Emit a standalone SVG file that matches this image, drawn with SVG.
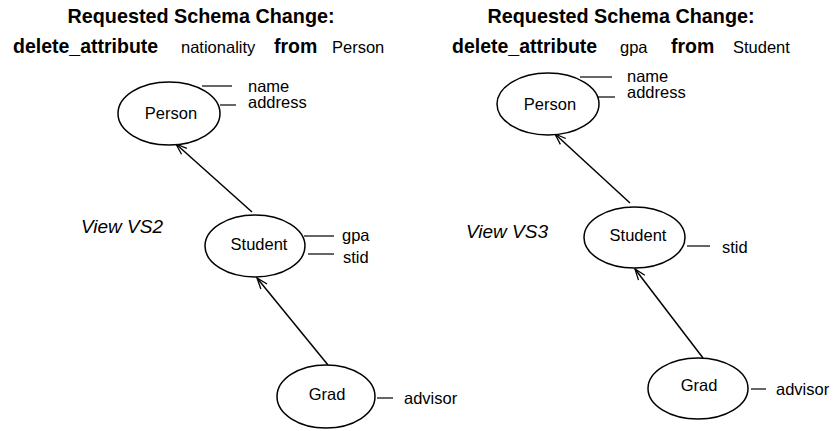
<svg xmlns="http://www.w3.org/2000/svg" width="837" height="431" viewBox="0 0 837 431">
<style>
text{font-family:"Liberation Sans",Arial,sans-serif;fill:#000}
.t{font-size:19.8px;font-weight:bold}
.k{font-size:19.5px;font-weight:bold}
.r{font-size:16.5px}
.v{font-size:19px;font-style:italic}
.n{fill:#fff;stroke:#000;stroke-width:1.5}
.a{stroke:#000;stroke-width:1.2;fill:none}
.e{stroke:#000;stroke-width:1.5;fill:none}
</style>
<defs>
<marker id="arr" markerUnits="userSpaceOnUse" markerWidth="14" markerHeight="12" refX="12" refY="5" orient="auto" viewBox="0 0 14 10">
<path d="M1,1 L12,5 L1,9" fill="none" stroke="#000" stroke-width="1.3"/>
</marker>
</defs>
<rect width="837" height="431" fill="#fff"/>
<g id="header-left">
<text class="t" x="201" y="23" text-anchor="middle">Requested Schema Change:</text>
<text class="k" x="13" y="53">delete_attribute</text>
<text class="r" x="181" y="53">nationality</text>
<text class="k" x="274" y="53">from</text>
<text class="r" x="332" y="53">Person</text>
</g>
<g id="header-right">
<text class="t" x="621" y="23" text-anchor="middle">Requested Schema Change:</text>
<text class="k" x="452" y="53">delete_attribute</text>
<text class="r" x="620" y="53">gpa</text>
<text class="k" x="671" y="53">from</text>
<text class="r" x="733" y="53">Student</text>
</g>
<text class="v" x="81" y="233">View VS2</text>
<text class="v" x="466" y="238">View VS3</text>
<g id="connectors">
<line class="e" x1="252" y1="212" x2="176" y2="144" marker-end="url(#arr)"/>
<line class="e" x1="328" y1="365" x2="257" y2="278" marker-end="url(#arr)"/>
<line class="e" x1="630" y1="203" x2="555" y2="134" marker-end="url(#arr)"/>
<line class="e" x1="703" y1="358" x2="635" y2="269" marker-end="url(#arr)"/>
</g>
<g id="vs2-person">
<ellipse class="n" cx="169" cy="113.5" rx="51" ry="31.5"/>
<text class="r" x="171" y="119" text-anchor="middle">Person</text>
<line class="a" x1="202" y1="86" x2="232" y2="86"/>
<line class="a" x1="220" y1="105" x2="236" y2="105"/>
<text class="r" x="248" y="91.5">name</text>
<text class="r" x="248" y="108">address</text>
</g>
<g id="vs2-student">
<ellipse class="n" cx="255" cy="246" rx="50" ry="31"/>
<text class="r" x="259" y="250" text-anchor="middle">Student</text>
<line class="a" x1="304" y1="236" x2="334" y2="236"/>
<line class="a" x1="308" y1="254" x2="334" y2="254"/>
<text class="r" x="342" y="241">gpa</text>
<text class="r" x="343" y="263">stid</text>
</g>
<g id="vs2-grad">
<ellipse class="n" cx="326" cy="396.5" rx="49" ry="31.5"/>
<text class="r" x="327" y="400" text-anchor="middle">Grad</text>
<line class="a" x1="377" y1="398" x2="393" y2="398"/>
<text class="r" x="404" y="404">advisor</text>
</g>
<g id="vs3-person">
<ellipse class="n" cx="548" cy="104" rx="51" ry="31"/>
<text class="r" x="550" y="110" text-anchor="middle">Person</text>
<line class="a" x1="580" y1="77" x2="612" y2="77"/>
<line class="a" x1="598" y1="97" x2="615" y2="97"/>
<text class="r" x="627" y="81.5">name</text>
<text class="r" x="627" y="98">address</text>
</g>
<g id="vs3-student">
<ellipse class="n" cx="634.5" cy="237.5" rx="50.5" ry="30.5"/>
<text class="r" x="638" y="241" text-anchor="middle">Student</text>
<line class="a" x1="687" y1="246" x2="710" y2="246"/>
<text class="r" x="722" y="253">stid</text>
</g>
<g id="vs3-grad">
<ellipse class="n" cx="698" cy="388.5" rx="50" ry="30.5"/>
<text class="r" x="699" y="391" text-anchor="middle">Grad</text>
<line class="a" x1="751" y1="389" x2="766" y2="389"/>
<text class="r" x="776" y="395">advisor</text>
</g>
</svg>
